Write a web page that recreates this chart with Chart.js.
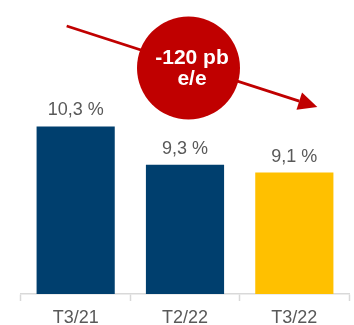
<!DOCTYPE html>
<html>
<head>
<meta charset="utf-8">
<script src="https://cdn.jsdelivr.net/npm/chart.js@4/dist/chart.umd.min.js"></script>
<style>
	html, body { margin: 0; padding: 0; background: #fff; }
	#wrap { width: 354px; height: 325px; }
</style>
</head>
<body>
<div id="wrap"><canvas id="barChart"></canvas></div>
<script>
//======================================================================================================
// Data
//======================================================================================================
var quarters  = ["T3/21", "T2/22", "T3/22"];
var ratios    = [10.3, 9.3, 9.1];
var barColors = ["#003F6E", "#003F6E", "#FFC000"];

var FONT  = "'Liberation Sans', Arial, sans-serif";
var GREY  = "#595959";
var RED   = "#C00000";

// Percent values with a comma as decimal separator
function fmtPct(v)
{
	return v.toFixed(1).replace(".", ",") + " %";
}

//======================================================================================================
// Plugin: value labels above the bars + the red trend arrow and badge
//======================================================================================================
var overlay = {
	id: "overlay",
	afterDatasetsDraw: function(chart) {
		var ctx = chart.ctx;
		var meta = chart.getDatasetMeta(0);
		ctx.save();
		ctx.fillStyle = GREY;
		ctx.font = "18px " + FONT;
		ctx.textAlign = "center";
		ctx.textBaseline = "alphabetic";
		meta.data.forEach(function(bar, i) {
			ctx.fillText(fmtPct(ratios[i]), bar.x, bar.y - 11);
		});

		// Trend arrow, from above the first bar to past the last one
		var first = meta.data[0], last = meta.data[meta.data.length - 1];
		var x0 = first.x - 9, y0 = 26;
		var x1 = last.x + 23, y1 = 107;
		var ang = Math.atan2(y1 - y0, x1 - x0);
		var headLen = 19, headW = 9;
		ctx.strokeStyle = RED;
		ctx.fillStyle = RED;
		ctx.lineWidth = 2.8;
		ctx.beginPath();
		ctx.moveTo(x0, y0);
		ctx.lineTo(x1 - headLen * Math.cos(ang), y1 - headLen * Math.sin(ang));
		ctx.stroke();
		ctx.beginPath();
		ctx.moveTo(x1, y1);
		ctx.lineTo(x1 - headLen * Math.cos(ang) + headW * Math.sin(ang), y1 - headLen * Math.sin(ang) - headW * Math.cos(ang));
		ctx.lineTo(x1 - headLen * Math.cos(ang) - headW * Math.sin(ang), y1 - headLen * Math.sin(ang) + headW * Math.cos(ang));
		ctx.closePath();
		ctx.fill();

		// Badge with the change in basis points
		var cx = meta.data[1].x + 3.5, cy = 68, r = 51.5;
		ctx.beginPath();
		ctx.arc(cx, cy, r, 0, Math.PI * 2);
		ctx.fill();
		var bp = Math.round((ratios[ratios.length - 1] - ratios[0]) * 100);
		ctx.fillStyle = "#fff";
		ctx.font = "bold 21px " + FONT;
		ctx.fillText(bp + " pb", cx + 3.5, 63.5);
		ctx.fillText("e/e", cx + 3.5, 85);
		ctx.restore();
	}
};

//======================================================================================================
// Chart
//======================================================================================================
var chart = new Chart(document.getElementById("barChart"), {
	type: "bar",
	data: {
		labels: quarters,
		datasets: [{
			data:               ratios,
			backgroundColor:    barColors,
			borderWidth:        0,
			barPercentage:      0.715,
			categoryPercentage: 1.0
		}]
	},
	options: {
		responsive:          true,
		maintainAspectRatio: false,
		animation:           false,
		devicePixelRatio:    1,
		layout: { padding: { left: 21, right: 5, top: 0, bottom: 0 } },
		plugins: {
			legend:  { display: false },
			tooltip: { enabled: false }
		},
		scales: {
			x: {
				offset: true,
				grid: {
					display:         true,
					offset:          true,
					drawOnChartArea: false,
					drawTicks:       true,
					tickLength:      7,
					tickWidth:       1.5,
					tickColor:       "#D9D9D9",
					color:           "#D9D9D9"
				},
				border: { display: true, color: "#D9D9D9", width: 1.5 },
				ticks: {
					color:   GREY,
					padding: 6,
					font:    { family: FONT, size: 18 }
				},
				afterFit: function(scale) { scale.height = 31; }
			},
			y: {
				display: false,
				min: 5.94,
				max: 13.59
			}
		}
	},
	plugins: [overlay]
});
</script>
</body>
</html>
